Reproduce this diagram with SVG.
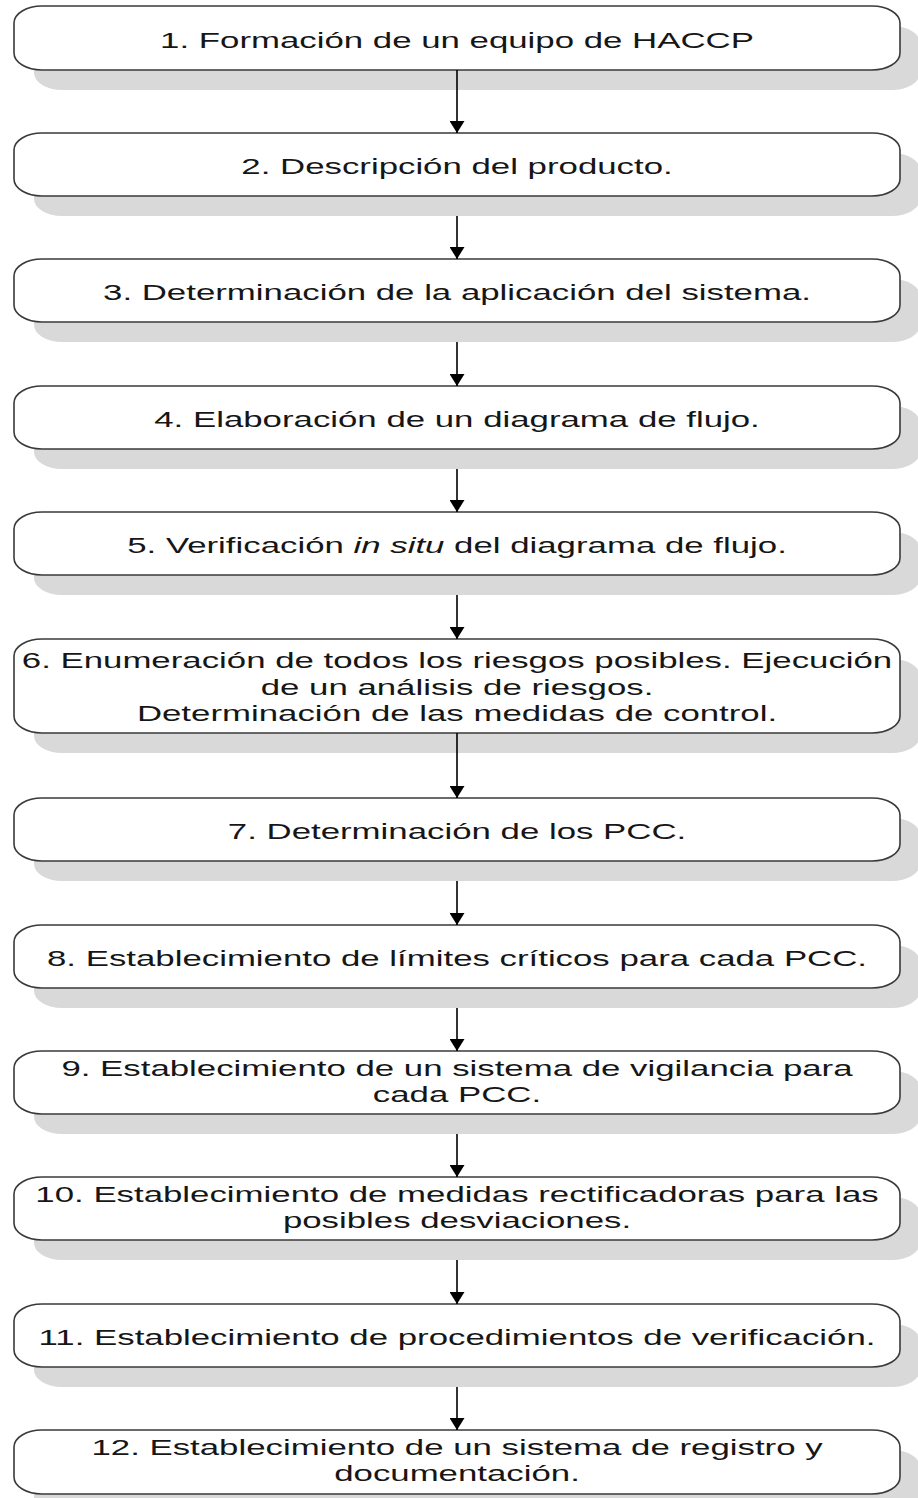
<svg xmlns="http://www.w3.org/2000/svg" width="918" height="1498" viewBox="0 0 918 1498">
  <style>
    .shadow { fill: #d9d9d9; }
    .box { fill: #ffffff; stroke: #3a3a3a; stroke-width: 1.6; }
    .lbl { font-family: "Liberation Sans", Arial, sans-serif; font-size: 22px; fill: #161616; text-anchor: middle; }
    .conn { stroke: #000000; stroke-width: 1.6; fill: none; marker-end: url(#arrow); }
  </style>
  <defs>
    <marker id="arrow" viewBox="0 -7.5 12 15" refX="12" refY="0" markerUnits="userSpaceOnUse" markerWidth="12" markerHeight="15" orient="auto">
      <path d="M0,-7.5 L12,0 L0,7.5 z" fill="#000000"/>
    </marker>
  </defs>
  <rect width="918" height="1498" fill="#ffffff"/>

  <!-- steps: drop shadow, rounded box, horizontally widened label -->
  <g id="step1">
    <rect class="shadow" x="34" y="26" width="886" height="64" rx="28" ry="17"/>
    <rect class="box" x="14" y="6" width="886" height="64" rx="28" ry="17"/>
    <g transform="translate(457 0) scale(1.582 1)"><text class="lbl" x="0" y="48.5">1. Formación de un equipo de HACCP</text></g>
  </g>
  <g id="step2">
    <rect class="shadow" x="34" y="153" width="886" height="63" rx="28" ry="17"/>
    <rect class="box" x="14" y="133" width="886" height="63" rx="28" ry="17"/>
    <g transform="translate(457 0) scale(1.582 1)"><text class="lbl" x="0" y="174">2. Descripción del producto.</text></g>
  </g>
  <g id="step3">
    <rect class="shadow" x="34" y="279" width="886" height="63" rx="28" ry="17"/>
    <rect class="box" x="14" y="259" width="886" height="63" rx="28" ry="17"/>
    <g transform="translate(457 0) scale(1.582 1)"><text class="lbl" x="0" y="300">3. Determinación de la aplicación del sistema.</text></g>
  </g>
  <g id="step4">
    <rect class="shadow" x="34" y="406" width="886" height="63" rx="28" ry="17"/>
    <rect class="box" x="14" y="386" width="886" height="63" rx="28" ry="17"/>
    <g transform="translate(457 0) scale(1.582 1)"><text class="lbl" x="0" y="427">4. Elaboración de un diagrama de flujo.</text></g>
  </g>
  <g id="step5">
    <rect class="shadow" x="34" y="532" width="886" height="63" rx="28" ry="17"/>
    <rect class="box" x="14" y="512" width="886" height="63" rx="28" ry="17"/>
    <g transform="translate(457 0) scale(1.582 1)"><text class="lbl" x="0" y="553">5. Verificación <tspan font-style="italic">in situ</tspan> del diagrama de flujo.</text></g>
  </g>
  <g id="step6">
    <rect class="shadow" x="34" y="659" width="886" height="94" rx="28" ry="17"/>
    <rect class="box" x="14" y="639" width="886" height="94" rx="28" ry="17"/>
    <g transform="translate(457 0) scale(1.582 1)">
      <text class="lbl" x="0" y="668.5">6. Enumeración de todos los riesgos posibles. Ejecución</text>
      <text class="lbl" x="0" y="695">de un análisis de riesgos.</text>
      <text class="lbl" x="0" y="721.5">Determinación de las medidas de control.</text>
    </g>
  </g>
  <g id="step7">
    <rect class="shadow" x="34" y="818" width="886" height="63" rx="28" ry="17"/>
    <rect class="box" x="14" y="798" width="886" height="63" rx="28" ry="17"/>
    <g transform="translate(457 0) scale(1.582 1)"><text class="lbl" x="0" y="839">7. Determinación de los PCC.</text></g>
  </g>
  <g id="step8">
    <rect class="shadow" x="34" y="945" width="886" height="63" rx="28" ry="17"/>
    <rect class="box" x="14" y="925" width="886" height="63" rx="28" ry="17"/>
    <g transform="translate(457 0) scale(1.582 1)"><text class="lbl" x="0" y="966">8. Establecimiento de límites críticos para cada PCC.</text></g>
  </g>
  <g id="step9">
    <rect class="shadow" x="34" y="1071" width="886" height="63" rx="28" ry="17"/>
    <rect class="box" x="14" y="1051" width="886" height="63" rx="28" ry="17"/>
    <g transform="translate(457 0) scale(1.582 1)">
      <text class="lbl" x="0" y="1076.5">9. Establecimiento de un sistema de vigilancia para</text>
      <text class="lbl" x="0" y="1102.5">cada PCC.</text>
    </g>
  </g>
  <g id="step10">
    <rect class="shadow" x="34" y="1197" width="886" height="63" rx="28" ry="17"/>
    <rect class="box" x="14" y="1177" width="886" height="63" rx="28" ry="17"/>
    <g transform="translate(457 0) scale(1.582 1)">
      <text class="lbl" x="0" y="1202.5">10. Establecimiento de medidas rectificadoras para las</text>
      <text class="lbl" x="0" y="1228.5">posibles desviaciones.</text>
    </g>
  </g>
  <g id="step11">
    <rect class="shadow" x="34" y="1324" width="886" height="63" rx="28" ry="17"/>
    <rect class="box" x="14" y="1304" width="886" height="63" rx="28" ry="17"/>
    <g transform="translate(457 0) scale(1.582 1)"><text class="lbl" x="0" y="1345">11. Establecimiento de procedimientos de verificación.</text></g>
  </g>
  <g id="step12">
    <rect class="shadow" x="34" y="1450" width="886" height="64" rx="28" ry="17"/>
    <rect class="box" x="14" y="1430" width="886" height="64" rx="28" ry="17"/>
    <g transform="translate(457 0) scale(1.582 1)">
      <text class="lbl" x="0" y="1455.5">12. Establecimiento de un sistema de registro y</text>
      <text class="lbl" x="0" y="1481">documentación.</text>
    </g>
  </g>

  <!-- connectors between consecutive steps -->
  <g id="connectors">
    <line class="conn" x1="457" y1="70" x2="457" y2="133"/>
    <line class="conn" x1="457" y1="216" x2="457" y2="259"/>
    <line class="conn" x1="457" y1="342" x2="457" y2="386"/>
    <line class="conn" x1="457" y1="469" x2="457" y2="512"/>
    <line class="conn" x1="457" y1="595" x2="457" y2="639"/>
    <line class="conn" x1="457" y1="733" x2="457" y2="798"/>
    <line class="conn" x1="457" y1="881" x2="457" y2="925"/>
    <line class="conn" x1="457" y1="1008" x2="457" y2="1051"/>
    <line class="conn" x1="457" y1="1134" x2="457" y2="1177"/>
    <line class="conn" x1="457" y1="1260" x2="457" y2="1304"/>
    <line class="conn" x1="457" y1="1387" x2="457" y2="1430"/>
  </g>
</svg>
